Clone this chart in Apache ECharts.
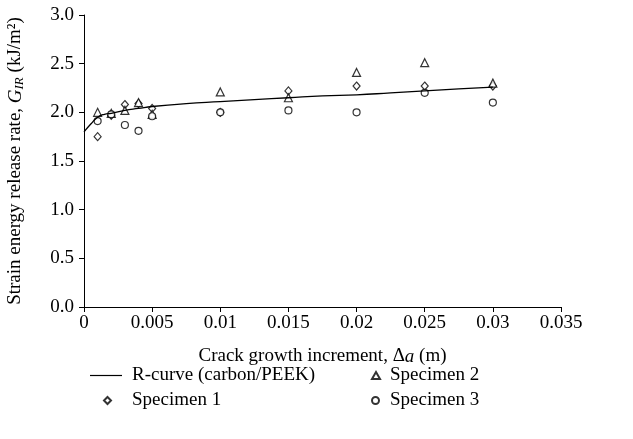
<!DOCTYPE html>
<html><head><meta charset="utf-8">
<script src="https://cdn.jsdelivr.net/npm/echarts@6/dist/echarts.min.js"></script>
<style>html,body{margin:0;padding:0;background:#fff}#c{width:633px;height:439px}</style>
</head><body><div id="c"></div>
<script>
const xs = [0.001,0.002,0.003,0.004,0.005,0.01,0.015,0.02,0.025,0.03];
const spec1 = [1.75,1.97,2.08,2.09,2.04,2.00,2.22,2.27,2.27,2.27];
const spec2 = [2.00,1.99,2.02,2.10,1.98,2.21,2.15,2.41,2.51,2.30];
const spec3 = [1.91,1.98,1.87,1.81,1.96,2.00,2.02,2.00,2.20,2.10];
const curveX = [0,0.0005,0.001,0.0015,0.002,0.003,0.004,0.005,0.0075,0.01,0.0125,0.015,0.0175,0.02,0.0225,0.025,0.0275,0.03];
const curveY = [1.80,1.88,1.95,1.98,1.99,2.02,2.04,2.06,2.09,2.11,2.13,2.15,2.17,2.18,2.20,2.22,2.24,2.26];
const xTicks = [0,0.005,0.01,0.015,0.02,0.025,0.03,0.035];
const yTicks = [0,0.5,1,1.5,2,2.5,3];

const F = 'Liberation Serif';
const FS = 19;
const pair = (a,b)=>a.map((v,i)=>[v,b[i]]);
const mk = {color:'#fff', borderColor:'#000', borderWidth:1.2};
const legTxt = pad => ({fontFamily:F,fontSize:FS,color:'#000',padding:[0,0,0,pad]});
const chart = echarts.init(document.getElementById('c'));
chart.setOption({
  animation:false,
  textStyle:{fontFamily:F, color:'#000'},
  grid:{left:84, right:72, top:15, bottom:132, containLabel:false, outerBoundsMode:'none'},
  xAxis:{type:'value', min:xTicks[0], max:xTicks[xTicks.length-1], interval:0.005,
    splitLine:{show:false},
    axisLine:{lineStyle:{color:'#000',width:1}},
    axisTick:{show:true, length:5, lineStyle:{color:'#000'}},
    axisLabel:{fontFamily:F, fontSize:FS, color:'#000', margin:7, formatter:v=>String(+v.toFixed(3))},
    name:'Crack growth increment, Δ{i|a} (m)', nameLocation:'middle', nameGap:40,
    nameTextStyle:{fontFamily:F, fontSize:FS, color:'#000', rich:{i:{fontFamily:F,fontStyle:'italic',fontSize:FS}}}
  },
  yAxis:{type:'value', min:yTicks[0], max:yTicks[yTicks.length-1], interval:0.5,
    splitLine:{show:false},
    axisLine:{show:true, lineStyle:{color:'#000',width:1}},
    axisTick:{show:true, length:5, lineStyle:{color:'#000'}},
    axisLabel:{fontFamily:F, fontSize:FS, color:'#000', margin:10, formatter:v=>v.toFixed(1)},
    name:'Strain energy release rate, {i|G}{sub|IR} (kJ/m²)', nameLocation:'middle', nameGap:58, nameRotate:90,
    nameTextStyle:{fontFamily:F, fontSize:FS, color:'#000',
      rich:{i:{fontFamily:F,fontStyle:'italic',fontSize:FS}, sub:{fontFamily:F,fontStyle:'italic',fontSize:13,padding:[8,0,0,0]}}}
  },
  legend:[
    {left:85, top:361, itemWidth:32, itemHeight:7, textStyle:legTxt(5),
     data:[{name:'R-curve (carbon/PEEK)', icon:'path://M0,0H40V1.5H0Z'}]},
    {left:98, top:386, itemWidth:7, itemHeight:7, textStyle:legTxt(16),
     data:[{name:'Specimen 1', icon:'diamond'}]},
    {left:366, top:361, itemWidth:8, itemHeight:7, textStyle:legTxt(5),
     data:[{name:'Specimen 2', icon:'triangle'}]},
    {left:366, top:386, itemWidth:7, itemHeight:7, textStyle:legTxt(6),
     data:[{name:'Specimen 3', icon:'circle'}]}
  ],
  series:[
    {name:'R-curve (carbon/PEEK)', type:'line', data:pair(curveX,curveY), smooth:true, showSymbol:false, symbol:'none',
     lineStyle:{color:'#000',width:1.3}, itemStyle:{color:'#000'}},
    {name:'Specimen 1', type:'scatter', symbol:'diamond', symbolSize:[7,8], data:pair(xs,spec1), itemStyle:mk},
    {name:'Specimen 2', type:'scatter', symbol:'triangle', symbolSize:8, data:pair(xs,spec2), itemStyle:mk},
    {name:'Specimen 3', type:'scatter', symbol:'circle', symbolSize:7, data:pair(xs,spec3), itemStyle:mk}
  ]
});
</script></body></html>
